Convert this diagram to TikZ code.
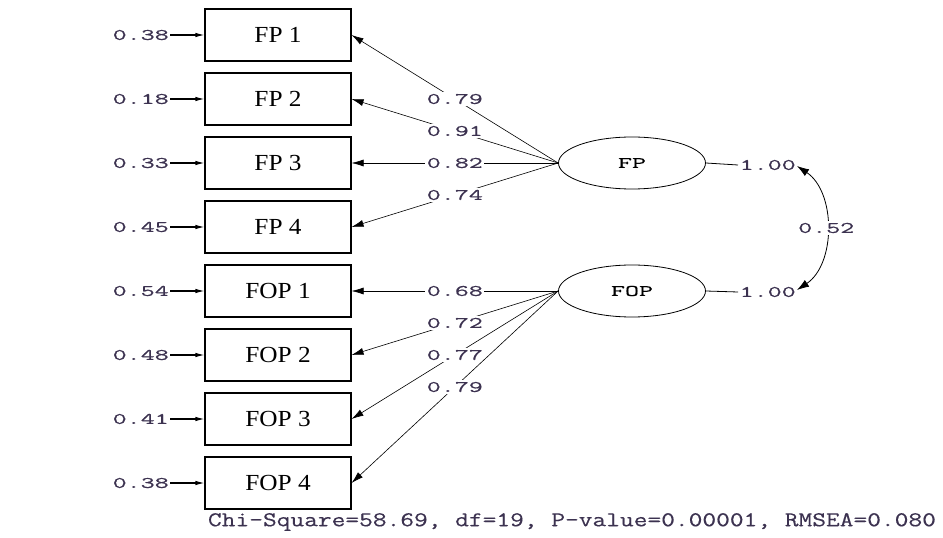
\documentclass[tikz,border=0pt]{standalone}
\usepackage{fontspec}
\setmainfont{Liberation Serif}
\newfontfamily\lblfont[FakeStretch=1.7,FakeBold=0.6]{Latin Modern Mono}
\newfontfamily\botfont[FakeStretch=1.27,FakeBold=0.4]{Latin Modern Mono}
\newfontfamily\boxfont[FakeStretch=1.1]{Liberation Serif}
\usetikzlibrary{arrows.meta,shapes.geometric}
\definecolor{lblcol}{RGB}{60,50,80}
\begin{document}
\begin{tikzpicture}[x=1bp,y=-1bp,
  obs/.style={draw, line width=1.1bp, minimum width=146bp, minimum height=52bp, inner sep=0pt,
    font=\boxfont\fontsize{23bp}{23bp}\selectfont},
  lat/.style={draw, ellipse, line width=0.8bp, minimum width=147bp, minimum height=52bp, inner sep=0pt,
    font=\lblfont\fontsize{16bp}{16bp}\selectfont},
  num/.style={font=\lblfont\fontsize{16bp}{16bp}\selectfont, text=lblcol, inner sep=1.5bp},
  onl/.style={num, fill=white, pos=0.5},
  load/.style={-{Latex[length=12bp,width=7bp]}, line width=0.6bp},
  err/.style={-{Latex[length=9bp,width=4.5bp]}, line width=1.1bp},
  cov/.style={{Latex[length=12bp,width=8bp]}-{Latex[length=12bp,width=8bp]}, line width=0.8bp}]
\useasboundingbox (0,0) rectangle (943,538);

% observed variables
\node[obs] (fp1) at (278,35) {FP 1};
\node[obs] (fp2) at (278,99) {FP 2};
\node[obs] (fp3) at (278,163) {FP 3};
\node[obs] (fp4) at (278,227) {FP 4};
\node[obs] (fop1) at (278,291) {FOP 1};
\node[obs] (fop2) at (278,355) {FOP 2};
\node[obs] (fop3) at (278,419) {FOP 3};
\node[obs] (fop4) at (278,483) {FOP 4};

% error variances
\foreach \b/\v in {fp1/0.38, fp2/0.18, fp3/0.33, fp4/0.45, fop1/0.54, fop2/0.48, fop3/0.41, fop4/0.38}{
  \node[num, anchor=east] (e\b) at ([xshift=-34bp]\b.west) {\v};
  \draw[err] (e\b.east) -- (\b.west);
}

% latent variables
\node[lat] (FP) at (632,163) {FP};
\node[lat] (FOP) at (632,291) {FOP};

% loadings
\draw[load] (FP.west) -- node[onl] {0.79} (fp1.east);
\draw[load] (FP.west) -- node[onl] {0.91} (fp2.east);
\draw[load] (FP.west) -- node[onl] {0.82} (fp3.east);
\draw[load] (FP.west) -- node[onl] {0.74} (fp4.east);
\draw[load] (FOP.west) -- node[onl] {0.68} (fop1.east);
\draw[load] (FOP.west) -- node[onl] {0.72} (fop2.east);
\draw[load] (FOP.west) -- node[onl] {0.77} (fop3.east);
\draw[load] (FOP.west) -- node[onl] {0.79} (fop4.east);

% variances of latent variables
\node[num, anchor=west] (v1) at (738,165) {1.00};
\node[num, anchor=west] (v2) at (738,292) {1.00};
\draw[line width=0.8bp] (FP.east) -- (v1.west);
\draw[line width=0.8bp] (FOP.east) -- (v2.west);

% covariance
\coordinate (c1) at (797,166);
\coordinate (c2) at (797,290);
\draw[cov] (c1) .. controls (836,192) and (836,264) .. node[onl] {0.52} (c2);

% fit statistics
\node[font=\botfont\fontsize{21bp}{21bp}\selectfont, text=lblcol, inner sep=0pt] (fit) at (572,522)
  {Chi-Square=58.69, df=19, P-value=0.00001, RMSEA=0.080};
\end{tikzpicture}
\end{document}
